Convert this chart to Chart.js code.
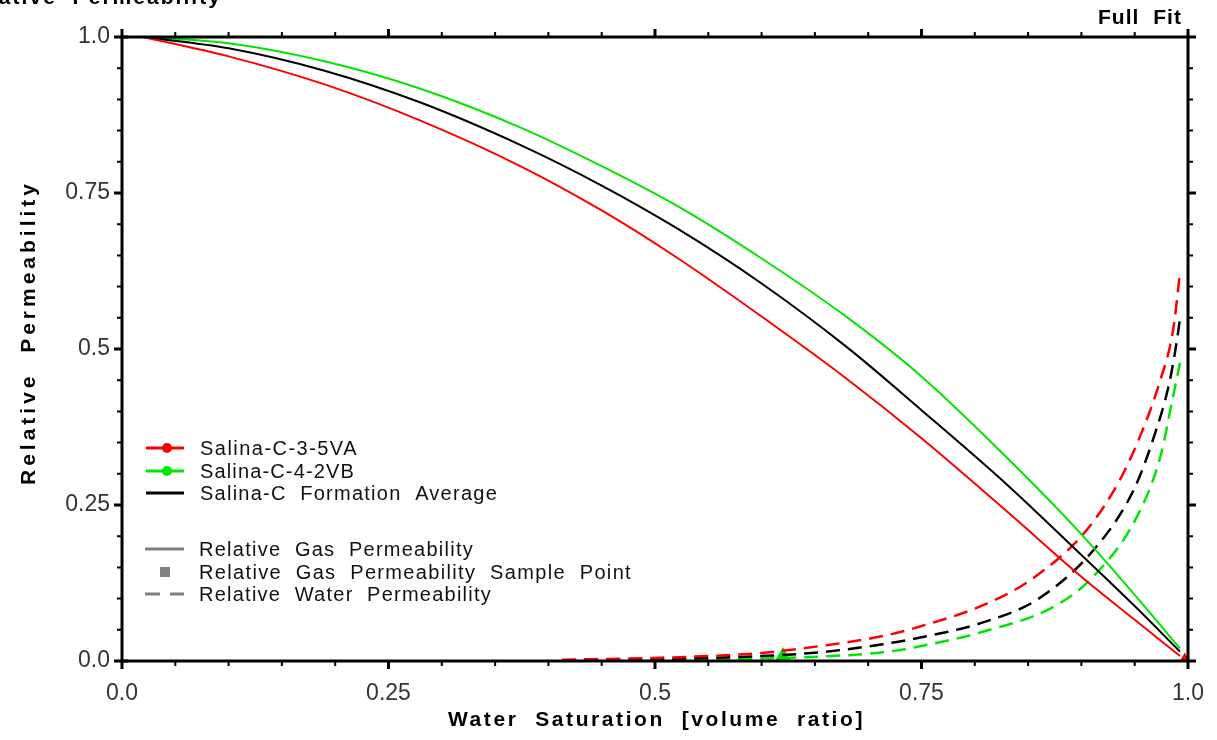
<!DOCTYPE html>
<html>
<head>
<meta charset="utf-8">
<script src="https://cdn.jsdelivr.net/npm/chart.js@4.4.1/dist/chart.umd.min.js"></script>
<style>
  html, body { margin: 0; padding: 0; background: #fff; }
  canvas { display: block; }
</style>
</head>
<body>
<canvas id="kr-chart" width="1217" height="740"></canvas>
<script>
// gas relative permeability (solid)
const gasSw = [0.02, 0.1, 0.19, 0.28, 0.375, 0.45, 0.52, 0.6, 0.68, 0.75, 0.83, 0.9, 0.95, 0.9925];
const gasKrRed = [1.0, 0.969, 0.924, 0.866, 0.792, 0.722, 0.647, 0.552, 0.452, 0.357, 0.240, 0.135, 0.066, 0.008];
const gasKrGreen = [1.0, 0.99, 0.961, 0.917, 0.854, 0.793, 0.73, 0.645, 0.551, 0.456, 0.326, 0.203, 0.106, 0.02];
const gasKrAvg = [1.0, 0.982, 0.946, 0.895, 0.826, 0.762, 0.694, 0.605, 0.503, 0.402, 0.283, 0.170, 0.088, 0.015];

// water relative permeability (dashed)
const waterSwRed = [0.413, 0.5, 0.55, 0.6, 0.655, 0.714, 0.75, 0.81, 0.855, 0.905, 0.936, 0.955, 0.974, 0.986, 0.9925];
const waterKrRed = [0.002, 0.005, 0.008, 0.013, 0.024, 0.040, 0.056, 0.091, 0.133, 0.21, 0.29, 0.36, 0.45, 0.53, 0.622];
const waterSwAvg = [0.413, 0.5, 0.55, 0.6, 0.655, 0.714, 0.75, 0.81, 0.86, 0.914, 0.949, 0.967, 0.983, 0.991, 0.993];
const waterKrAvg = [0.001, 0.003, 0.005, 0.008, 0.014, 0.027, 0.038, 0.063, 0.10, 0.183, 0.274, 0.354, 0.45, 0.53, 0.556];
const waterSwGreen = [0.413, 0.5, 0.6, 0.655, 0.714, 0.75, 0.81, 0.874, 0.911, 0.952, 0.974, 0.986, 0.9925];
const waterKrGreen = [0.0, 0.001, 0.004, 0.007, 0.014, 0.024, 0.048, 0.087, 0.135, 0.231, 0.327, 0.424, 0.478];

// gas sample points
const sampleRed = [{ x: 0.997, y: 0.004 }];
const sampleGreen = [{ x: 0.62, y: 0.005 }];

const tickLabels = ['0.0', '0.25', '0.5', '0.75', '1.0'];
const sampleLabels = ['Salina-C-3-5VA', 'Salina-C-4-2VB', 'Salina-C  Formation  Average'];
const kindLabels = ['Relative  Gas  Permeability', 'Relative  Gas  Permeability  Sample  Point', 'Relative  Water  Permeability'];

const RED = '#ff0000';
const GREEN = '#00e600';
const BLACK = '#000000';
const GREY = '#808080';

const toXY = (xs, ys) => xs.map((x, i) => ({ x, y: ys[i] }));

function gasSet(label, xs, ys, color) {
    return {
        label, data: toXY(xs, ys), borderColor: color, borderWidth: 2,
        pointRadius: 0, cubicInterpolationMode: 'monotone', fill: false
    };
}
function waterSet(label, xs, ys, color) {
    return {
        label, data: toXY(xs, ys), borderColor: color, borderWidth: 2.5,
        borderDash: [14, 8], pointRadius: 0, cubicInterpolationMode: 'monotone', fill: false
    };
}
function sampleSet(label, pts, color, r) {
    return {
        label, data: pts, showLine: false, pointStyle: 'triangle',
        pointRadius: r, backgroundColor: color, borderColor: color, borderWidth: 0
    };
}

function labelFor(v) {
    const i = Math.round(v / 0.25);
    if (Math.abs(v - i * 0.25) < 1e-6) return tickLabels[i];
    return '';
}

// draw text stretched to a wanted width with letter spacing
function spacedText(ctx, text, x, y, width, align) {
    ctx.letterSpacing = '0px';
    const w = ctx.measureText(text).width;
    const sp = Math.max(0, (width - w) / text.length);
    ctx.letterSpacing = sp + 'px';
    ctx.textAlign = align || 'left';
    ctx.fillText(text, x, y);
    ctx.letterSpacing = '0px';
}

const framePlugin = {
    id: 'frame',
    afterDraw(chart) {
        const { ctx, chartArea: a, scales } = chart;
        ctx.save();
        ctx.strokeStyle = '#000';
        ctx.lineWidth = 3;
        ctx.strokeRect(a.left, a.top, a.right - a.left, a.bottom - a.top);

        // tick marks on all four sides
        for (let k = 0; k <= 20; k++) {
            const v = k * 0.05;
            const major = k % 5 === 0;
            const len = major ? 8 : 5;
            ctx.lineWidth = major ? 3 : 2;
            const px = scales.x.getPixelForValue(v);
            const py = scales.y.getPixelForValue(v);
            ctx.beginPath();
            ctx.moveTo(px, a.bottom); ctx.lineTo(px, a.bottom + len);
            ctx.moveTo(px, a.top); ctx.lineTo(px, a.top - len);
            ctx.moveTo(a.left, py); ctx.lineTo(a.left - len, py);
            ctx.moveTo(a.right, py); ctx.lineTo(a.right + len, py);
            if (major && (k === 0 || k === 20)) {
                ctx.moveTo(a.left, py); ctx.lineTo(a.left + 6, py);
            }
            ctx.stroke();
        }

        // titles
        ctx.fillStyle = '#000';
        ctx.textBaseline = 'alphabetic';
        ctx.font = 'bold 21px "Liberation Sans", Arial, sans-serif';
        spacedText(ctx, 'Water  Saturation  [volume  ratio]', 448, 726, 417);
        spacedText(ctx, 'Full  Fit', 1098, 24, 84);
        spacedText(ctx, 'Relative  Permeability', -40, 4, 262);
        ctx.save();
        ctx.translate(35, 485);
        ctx.rotate(-Math.PI / 2);
        spacedText(ctx, 'Relative  Permeability', 0, 0, 305);
        ctx.restore();

        // legend
        ctx.font = '20px "Liberation Sans", Arial, sans-serif';
        ctx.textBaseline = 'middle';
        const colors = [RED, GREEN, BLACK];
        const rows = [448, 471, 493];
        const widths = [158, 155, 298];
        colors.forEach((c, i) => {
            ctx.strokeStyle = c; ctx.fillStyle = c; ctx.lineWidth = 3;
            ctx.beginPath(); ctx.moveTo(146, rows[i]); ctx.lineTo(184, rows[i]); ctx.stroke();
            if (i < 2) {
                ctx.beginPath(); ctx.arc(167, rows[i], 5, 0, Math.PI * 2); ctx.fill();
            }
            ctx.fillStyle = '#111';
            spacedText(ctx, sampleLabels[i], 200, rows[i] + 1, widths[i]);
        });
        const kRows = [549, 572, 594];
        const kWidths = [275, 433, 293];
        ctx.strokeStyle = GREY; ctx.fillStyle = GREY; ctx.lineWidth = 3;
        ctx.beginPath(); ctx.moveTo(145, kRows[0]); ctx.lineTo(184, kRows[0]); ctx.stroke();
        ctx.fillRect(160, kRows[1] - 5, 10, 10);
        ctx.beginPath(); ctx.moveTo(145, kRows[2]); ctx.lineTo(160, kRows[2]);
        ctx.moveTo(170, kRows[2]); ctx.lineTo(184, kRows[2]); ctx.stroke();
        ctx.fillStyle = '#111';
        kindLabels.forEach((t, i) => spacedText(ctx, t, 199, kRows[i] + 1, kWidths[i]));
        ctx.restore();
    }
};

const chart = new Chart(
    document.getElementById('kr-chart'),
    {
        type: 'line',
        data: {
            datasets: [
                gasSet('Salina-C-3-5VA gas', gasSw, gasKrRed, RED),
                gasSet('Salina-C formation average gas', gasSw, gasKrAvg, BLACK),
                gasSet('Salina-C-4-2VB gas', gasSw, gasKrGreen, GREEN),
                waterSet('Salina-C-3-5VA water', waterSwRed, waterKrRed, RED),
                waterSet('Salina-C formation average water', waterSwAvg, waterKrAvg, BLACK),
                waterSet('Salina-C-4-2VB water', waterSwGreen, waterKrGreen, GREEN),
                sampleSet('Salina-C-3-5VA sample', sampleRed, RED, 6),
                sampleSet('Salina-C-4-2VB sample', sampleGreen, GREEN, 11)
            ]
        },
        options: {
            responsive: false,
            animation: false,
            devicePixelRatio: 1,
            layout: { padding: { top: 37, right: 29, left: 0, bottom: 0 } },
            plugins: { legend: { display: false }, tooltip: { enabled: false } },
            scales: {
                x: {
                    type: 'linear', min: 0, max: 1,
                    grid: { display: false, drawTicks: false },
                    border: { display: false },
                    ticks: {
                        stepSize: 0.05, autoSkip: false, maxRotation: 0,
                        padding: 11, color: '#333',
                        font: { family: '"Liberation Sans", Arial, sans-serif', size: 23, lineHeight: 1.9 },
                        callback: v => labelFor(v)
                    },
                    afterFit: s => { s.height = 79; }
                },
                y: {
                    type: 'linear', min: 0, max: 1,
                    grid: { display: false, drawTicks: false },
                    border: { display: false },
                    ticks: {
                        stepSize: 0.05, autoSkip: false,
                        padding: 12, color: '#333',
                        font: { family: '"Liberation Sans", Arial, sans-serif', size: 23 },
                        callback: v => labelFor(v)
                    },
                    afterFit: s => { s.width = 122; }
                }
            }
        },
        plugins: [framePlugin]
    }
);
</script>
</body>
</html>
